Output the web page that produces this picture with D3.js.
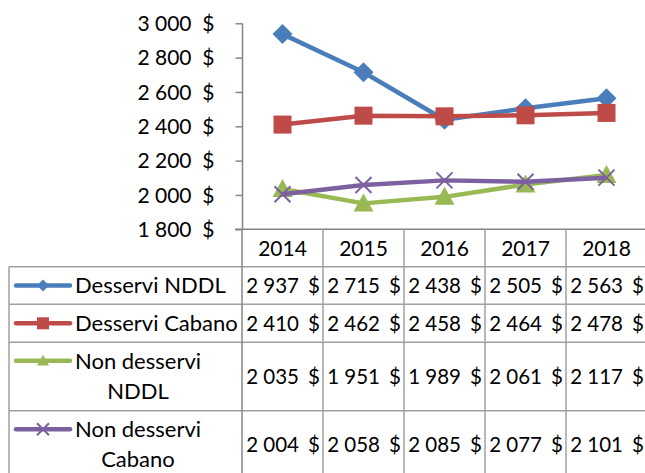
<!DOCTYPE html>
<html>
<head>
<meta charset="utf-8">
<script src="https://cdn.jsdelivr.net/npm/d3@7"></script>
<style>
  body { margin: 0; background: #fff; }
  text { font-family: Lato, "Liberation Sans", sans-serif; fill: #000; }
</style>
</head>
<body>
<div id="chart"></div>
<script>
// data
var years = ["2014", "2015", "2016", "2017", "2018"];
var seriesNames = ["Desservi NDDL", "Desservi Cabano", "Non desservi NDDL", "Non desservi Cabano"];
var desserviNDDL = [2937, 2715, 2438, 2505, 2563];
var desserviCabano = [2410, 2462, 2458, 2464, 2478];
var nonDesserviNDDL = [2035, 1951, 1989, 2061, 2117];
var nonDesserviCabano = [2004, 2058, 2085, 2077, 2101];
var yTicks = [1800, 2000, 2200, 2400, 2600, 2800, 3000];

var seriesValues = [desserviNDDL, desserviCabano, nonDesserviNDDL, nonDesserviCabano];
var colors = ["#4a7ebb", "#be4b48", "#98b954", "#7d60a0"];
var markers = ["diamond", "square", "triangle", "cross"];
// label lines per row (wrapped like the original)
var labelLines = [["Desservi NDDL"], ["Desservi Cabano"], ["Non desservi", "NDDL"], ["Non desservi", "Cabano"]];

var width = 645, height = 473;
var labelSize = 22, numSize = 20.5, yearSize = 21, tickSize = 21;
var gridColor = "#a0a0a0";

var svg = d3.select("#chart")
    .append("svg")
    .attr("width", width)
    .attr("height", height);

var x = d3.scaleBand()
    .domain(years)
    .range([242, 647])
    .padding(0);

var y = d3.scaleLinear()
    .domain([1800, 3000])
    .range([229.3, 23.3]);

var loc = d3.formatLocale({decimal: ",", thousands: "\u00a0", grouping: [3], currency: ["", "$"]});
var fmt = loc.format(",d");

// y axis
var yAxis = svg.append("g")
    .attr("transform", "translate(242.5,0)")
    .call(d3.axisLeft(y).tickValues(yTicks).tickSize(7).tickPadding(50).tickFormat(fmt));
yAxis.selectAll("path, line").attr("stroke", "#868686").attr("stroke-width", 1.5);
yAxis.select(".domain").attr("d", "M0," + y(3000) + "V" + y(1800));
yAxis.selectAll(".tick text")
    .attr("font-size", tickSize)
    .attr("font-family", "Lato, sans-serif")
    .attr("fill", "#000")
    .attr("x", -51)
    .attr("dy", "0.34em");
yAxis.selectAll(".tick").append("text")
    .attr("x", -28)
    .attr("dy", "0.34em")
    .attr("text-anchor", "end")
    .attr("font-size", tickSize)
    .attr("fill", "#000")
    .text("$");

// table layout
var tableLeft = 9, tableRight = 647;
var headerTop = y(1800), headerBottom = 266.7;
var rowEdges = [266.7, 304.3, 342.3, 410.7, 479];

var table = svg.append("g");
// horizontal axis / header top
table.append("line")
    .attr("x1", 235).attr("x2", tableRight)
    .attr("y1", headerTop).attr("y2", headerTop)
    .attr("stroke", "#868686").attr("stroke-width", 1.5);
// row lines
rowEdges.forEach(function(r) {
    table.append("line")
        .attr("x1", tableLeft).attr("x2", tableRight)
        .attr("y1", r).attr("y2", r)
        .attr("stroke", gridColor).attr("stroke-width", 1.5);
});
// left border
table.append("line")
    .attr("x1", tableLeft).attr("x2", tableLeft)
    .attr("y1", rowEdges[0]).attr("y2", rowEdges[rowEdges.length - 1])
    .attr("stroke", gridColor).attr("stroke-width", 1.5);
// column lines
years.concat(["end"]).forEach(function(d, i) {
    var cx = i < years.length ? x(d) : x.range()[1];
    table.append("line")
        .attr("x1", cx).attr("x2", cx)
        .attr("y1", headerTop).attr("y2", rowEdges[rowEdges.length - 1])
        .attr("stroke", i == 0 ? "#868686" : gridColor).attr("stroke-width", 1.5);
});

// header years
table.selectAll(".year")
    .data(years)
    .join("text")
    .attr("class", "year")
    .attr("x", function(d) { return x(d) + x.bandwidth() / 2; })
    .attr("y", (headerTop + headerBottom) / 2)
    .attr("dy", "0.36em")
    .attr("text-anchor", "middle")
    .attr("font-size", yearSize)
    .text(function(d) { return d; });

// value cells
seriesValues.forEach(function(vals, si) {
    var cy = (rowEdges[si] + rowEdges[si + 1]) / 2;
    var g = table.append("g");
    g.selectAll(".num")
        .data(vals)
        .join("text")
        .attr("x", function(d, i) { return x(years[i]) + x.bandwidth() - 24; })
        .attr("y", cy)
        .attr("dy", "0.36em")
        .attr("text-anchor", "end")
        .attr("font-size", numSize)
        .text(function(d) { return fmt(d); });
    g.selectAll(".cur")
        .data(vals)
        .join("text")
        .attr("x", function(d, i) { return x(years[i]) + x.bandwidth() - 3; })
        .attr("y", cy)
        .attr("dy", "0.36em")
        .attr("text-anchor", "end")
        .attr("font-size", numSize)
        .text("$");
});

function drawMarker(sel, type, color, s) {
    if (type == "diamond") {
        sel.append("path")
            .attr("d", "M0," + (-s) + "L" + s + ",0L0," + s + "L" + (-s) + ",0Z")
            .attr("fill", color);
    } else if (type == "square") {
        sel.append("rect")
            .attr("x", -s).attr("y", -s).attr("width", 2 * s).attr("height", 2 * s)
            .attr("fill", color);
    } else if (type == "triangle") {
        sel.append("path")
            .attr("d", "M0," + (-s) + "L" + s + "," + (s * 0.8) + "L" + (-s) + "," + (s * 0.8) + "Z")
            .attr("fill", color);
    } else {
        sel.append("path")
            .attr("d", "M" + (-s) + "," + (-s) + "L" + s + "," + s + "M" + (-s) + "," + s + "L" + s + "," + (-s))
            .attr("stroke", color).attr("stroke-width", 2).attr("fill", "none");
    }
}

// row labels with legend keys
labelLines.forEach(function(lines, si) {
    var top = rowEdges[si];
    var g = table.append("g");
    var keyY;
    if (lines.length == 1) {
        keyY = (rowEdges[si] + rowEdges[si + 1]) / 2;
        g.append("text")
            .attr("x", 75).attr("y", keyY).attr("dy", "0.36em")
            .attr("font-size", labelSize)
            .text(lines[0]);
    } else {
        keyY = top + 18.5;
        lines.forEach(function(t, li) {
            g.append("text")
                .attr("x", 138).attr("y", top + 18.5 + li * 30).attr("dy", "0.36em")
                .attr("text-anchor", "middle")
                .attr("font-size", labelSize)
                .text(t);
        });
    }
    g.append("line")
        .attr("x1", 16).attr("x2", 70)
        .attr("y1", keyY).attr("y2", keyY)
        .attr("stroke", colors[si]).attr("stroke-width", 4.5)
        .attr("stroke-linecap", "round");
    var m = g.append("g").attr("transform", "translate(43," + keyY + ")");
    drawMarker(m, markers[si], colors[si], 6);
});

// lines
var line = d3.line()
    .x(function(d, i) { return x(years[i]) + x.bandwidth() / 2; })
    .y(function(d) { return y(d); });

var plot = svg.append("g");
seriesValues.forEach(function(vals, si) {
    plot.append("path")
        .datum(vals)
        .attr("d", line)
        .attr("fill", "none")
        .attr("stroke", colors[si])
        .attr("stroke-width", 4.5)
        .attr("stroke-linejoin", "round");
    var sizes = [10, 9, 10, 8];
    plot.selectAll(".m" + si)
        .data(vals)
        .join("g")
        .attr("class", "m" + si)
        .attr("transform", function(d, i) {
            return "translate(" + (x(years[i]) + x.bandwidth() / 2) + "," + y(d) + ")";
        })
        .each(function() { drawMarker(d3.select(this), markers[si], colors[si], sizes[si]); });
});
</script>
</body>
</html>
